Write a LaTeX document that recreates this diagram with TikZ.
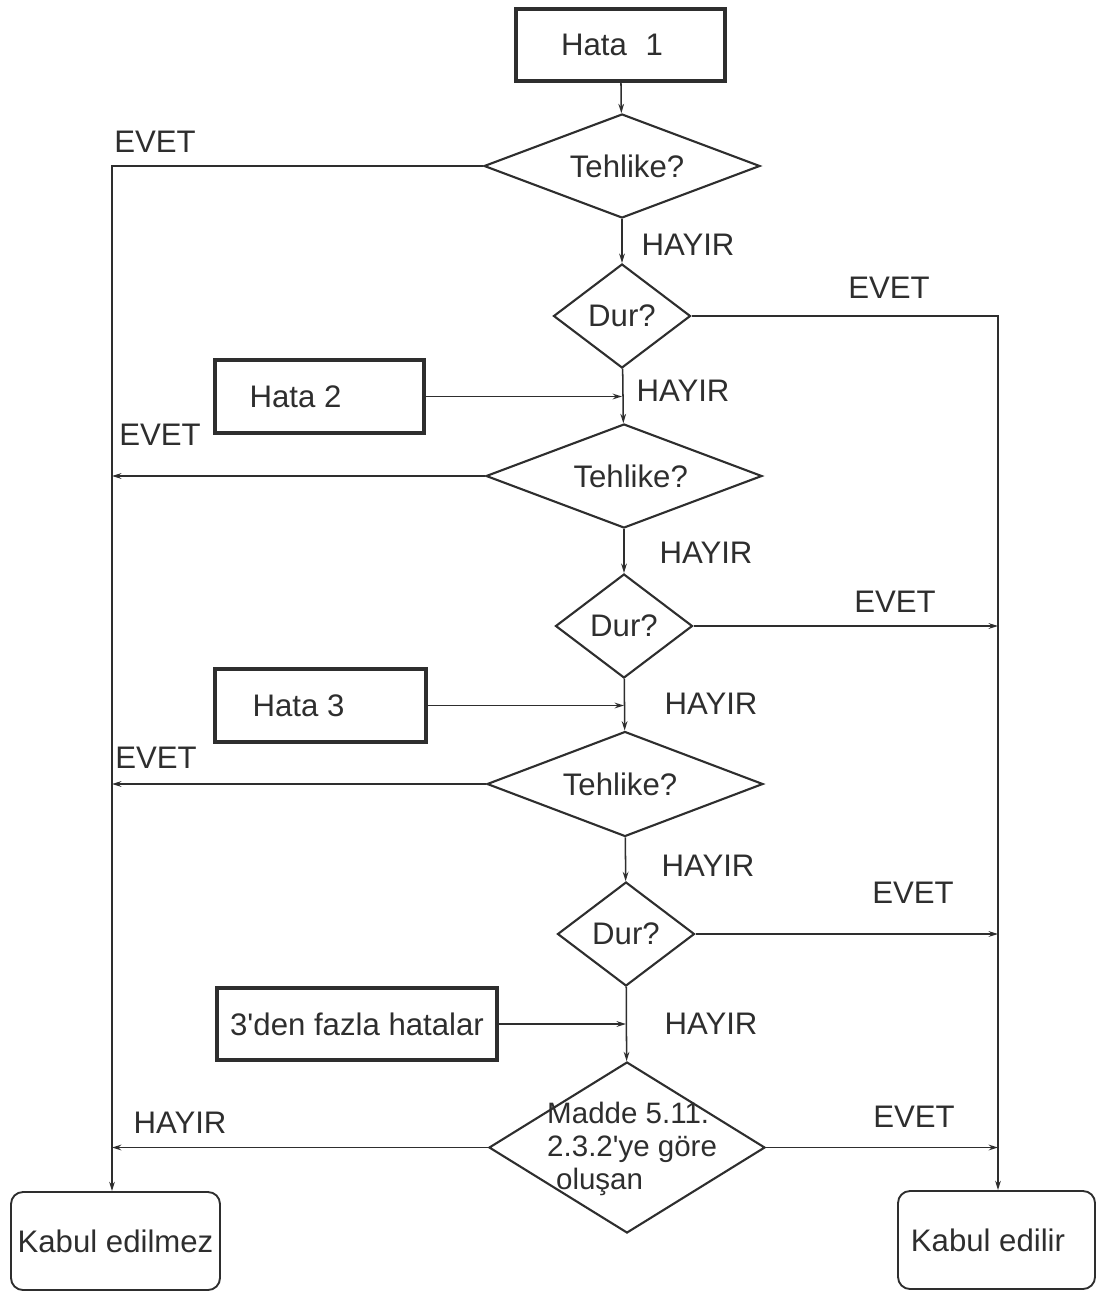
\documentclass[tikz,border=0pt]{standalone}
\usepackage{fontspec}
\newfontfamily\arialf{Liberation Sans}
\usetikzlibrary{shapes.geometric,arrows.meta}
\definecolor{ink}{HTML}{2E2E2E}
\def\pxu{0.03cm}
\begin{document}
\begin{tikzpicture}[x=0.03cm,y=-0.03cm,
  txt/.style={font=\arialf\fontsize{26.6pt}{31pt}\selectfont, text=ink, inner sep=0pt},
  hbox/.style={txt, draw=ink, line width=3pt, inner sep=0pt},
  dia/.style={txt, draw=ink, line width=1.8pt, diamond, inner sep=0pt},
  rbox/.style={txt, draw=ink, line width=1.6pt, rounded corners=0.36cm, inner sep=0pt},
  conn/.style={draw=ink, line width=1.3pt},
  arr/.style={conn, -{Stealth[length=0.28cm,width=0.17cm]}},
  lab/.style={txt}
]
\useasboundingbox (0,0) rectangle (1097,1291);
% boxes
\node[hbox, minimum width=209*\pxu, minimum height=72*\pxu] (h1) at (620.5,45) {Hata\hspace{0.6em}1\kern0.51cm};
\node[hbox, minimum width=209*\pxu, minimum height=73*\pxu] (h2) at (319.5,396.5) {Hata 2\kern1.44cm};
\node[hbox, minimum width=211*\pxu, minimum height=73*\pxu] (h3) at (320.5,705.5) {Hata 3\kern1.32cm};
\node[hbox, minimum width=280*\pxu, minimum height=72*\pxu] (h4) at (357,1024) {3'den fazla hatalar};
% diamonds
\node[dia, minimum width=276*\pxu, minimum height=104*\pxu, aspect=2.65] (d1) at (622,166) {\kern0.3cm Tehlike?};
\node[dia, minimum width=137*\pxu, minimum height=104*\pxu, aspect=1.32] (d2) at (622,316) {Dur?};
\node[dia, minimum width=276*\pxu, minimum height=104*\pxu, aspect=2.65] (d3) at (624,476) {\kern0.4cm Tehlike?};
\node[dia, minimum width=137*\pxu, minimum height=104*\pxu, aspect=1.32] (d4) at (624,626) {Dur?};
\node[dia, minimum width=276*\pxu, minimum height=105*\pxu, aspect=2.65] (d5) at (625,784) {Tehlike?\kern0.3cm};
\node[dia, minimum width=137*\pxu, minimum height=104*\pxu, aspect=1.32] (d6) at (626,934) {Dur?};
\node[dia, minimum width=276*\pxu, minimum height=171*\pxu, aspect=1.61] (d7) at (627,1147.5) {};
\node[txt, font=\arialf\fontsize{25.2pt}{28.2pt}\selectfont, align=left, anchor=west] (d7t) at (547,1149) {Madde 5.11.\\2.3.2'ye göre\\\hspace{0.3em}oluşan};
% end boxes
\node[rbox, minimum width=209*\pxu, minimum height=98*\pxu] (ke) at (115.5,1241) {Kabul edilmez};
\node[rbox, minimum width=197*\pxu, minimum height=98*\pxu] (kd) at (996.5,1240) {Kabul edilir\kern0.51cm};
% main line
\draw[arr] (h1) -- (d1);
\draw[arr] (d1) -- (d2);
\draw[arr] (d2) -- (d3);
\draw[arr] (d3) -- (d4);
\draw[arr] (d4) -- (d5);
\draw[arr] (d5) -- (d6);
\draw[arr] (d6) -- (d7);
% side inputs
\coordinate (j2) at (d2.south |- h2.east);
\coordinate (j3) at (d4.south |- h3.east);
\coordinate (j4) at (d6.south |- h4.east);
\draw[arr] (h2.east) -- (j2);
\draw[arr] (h3.east) -- (j3);
\draw[arr] (h4.east) -- (j4);
% left bus
\coordinate (Ltop) at (112,166);
\coordinate (Lbot) at (Ltop |- ke.north);
\draw[arr] (d1.west) -- (Ltop) -- (Lbot);
\draw[arr] (d3.west) -- (Ltop |- d3.west);
\draw[arr] (d5.west) -- (Ltop |- d5.west);
\draw[arr] (d7.west) -- (Ltop |- d7.west);
% right bus
\coordinate (Rtop) at (998,316);
\coordinate (Rbot) at (Rtop |- kd.north);
\draw[arr] (d2.east) -- (Rtop) -- (Rbot);
\draw[arr] (d4.east) -- (Rtop |- d4.east);
\draw[arr] (d6.east) -- (Rtop |- d6.east);
\draw[arr] (d7.east) -- (Rtop |- d7.east);
% labels
\node[lab] (e1) at (155,142) {EVET};
\node[lab] (n1) at (688,245) {HAYIR};
\node[lab] (e2) at (889,288) {EVET};
\node[lab] (n2) at (683,391) {HAYIR};
\node[lab] (e3) at (160,435) {EVET};
\node[lab] (n3) at (706,553) {HAYIR};
\node[lab] (e4) at (895,602) {EVET};
\node[lab] (n4) at (711,704) {HAYIR};
\node[lab] (e5) at (156,758) {EVET};
\node[lab] (n5) at (708,866) {HAYIR};
\node[lab] (e6) at (913,893) {EVET};
\node[lab] (n6) at (711,1024) {HAYIR};
\node[lab] (n7) at (180,1123) {HAYIR};
\node[lab] (e7) at (914,1117) {EVET};
\end{tikzpicture}
\end{document}
